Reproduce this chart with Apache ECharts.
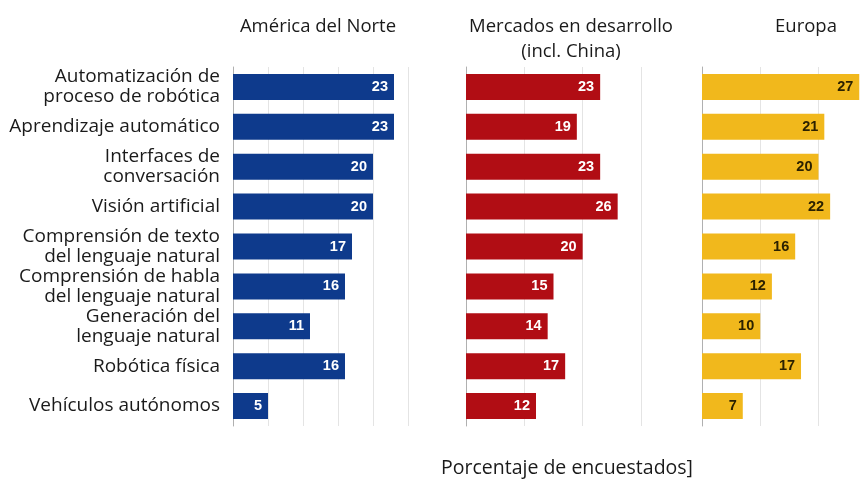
<!DOCTYPE html>
<html>
<head>
<meta charset="utf-8">
<script src="https://cdn.jsdelivr.net/npm/echarts@6/dist/echarts.min.js"></script>
<style>
  html, body { margin: 0; padding: 0; background: #fff; }
  #chart { width: 868px; height: 486px; }
</style>
</head>
<body>
<div id="chart"></div>
<script>
// Technologies surveyed (top to bottom)
const categories = [
  'Automatización de\nproceso de robótica',
  'Aprendizaje automático',
  'Interfaces de\nconversación',
  'Visión artificial',
  'Comprensión de texto\ndel lenguaje natural',
  'Comprensión de habla\ndel lenguaje natural',
  'Generación del\nlenguaje natural',
  'Robótica física',
  'Vehículos autónomos'
];

// Share of respondents (%) per region
const northAmerica = [23, 23, 20, 20, 17, 16, 11, 16, 5];
const emerging = [23, 19, 23, 26, 20, 15, 14, 17, 12];
const europe = [27, 21, 20, 22, 16, 12, 10, 17, 7];

const panelTitles = ['América del Norte', 'Mercados en desarrollo\n(incl. China)', 'Europa'];
const xLabel = 'Porcentaje de encuestados]';

const FONT = '"Open Sans", "Noto Sans", sans-serif';
const LABEL_FONT = '"Liberation Sans", Arial, sans-serif';

// The Europe panel runs off the right edge, so its axis stops at the canvas border
const panels = [
  { left: 233, right: 460, max: 25, step: 5, color: '#0e3a8c', text: '#ffffff', data: northAmerica, center: 313 },
  { left: 466, right: 227, max: 30, step: 10, color: '#b10d14', text: '#ffffff', data: emerging, center: 566 },
  { left: 702, right: 0, max: 28.5, step: 10, color: '#f1b81c', text: '#2b2100', data: europe, center: 801 }
];

const chart = echarts.init(document.getElementById('chart'), null, { renderer: 'canvas' });

const option = {
  backgroundColor: '#ffffff',
  animation: false,
  title: panels.map((p, i) => ({
    text: panelTitles[i],
    left: p.center,
    top: 9,
    textAlign: 'center',
    textStyle: { fontFamily: FONT, fontSize: 18.5, fontWeight: 'normal', color: '#1a1a1a', lineHeight: 25 }
  })).concat([{
    text: xLabel,
    left: 562,
    top: 453,
    textAlign: 'center',
    textStyle: { fontFamily: FONT, fontSize: 19.5, fontWeight: 'normal', color: '#1a1a1a' }
  }]),
  grid: panels.map(p => ({ left: p.left, right: p.right, top: 67, height: 359, containLabel: false })),
  xAxis: panels.map((p, i) => ({
    type: 'value',
    gridIndex: i,
    min: 0,
    max: p.max,
    interval: p.step,
    axisLine: { show: false },
    axisTick: { show: false },
    axisLabel: { show: false },
    splitLine: { show: true, lineStyle: { color: '#e4e4e4', width: 1 } }
  })),
  yAxis: panels.map((p, i) => ({
    type: 'category',
    gridIndex: i,
    data: categories,
    inverse: true,
    axisLine: { show: true, lineStyle: { color: '#b0b0b0', width: 1 } },
    axisTick: { show: false },
    axisLabel: {
      show: i === 0,
      margin: 13,
      align: 'right',
      fontFamily: FONT,
      fontSize: 19,
      lineHeight: 20,
      color: '#1a1a1a'
    }
  })),
  series: panels.map((p, i) => ({
    type: 'bar',
    xAxisIndex: i,
    yAxisIndex: i,
    data: p.data,
    barWidth: 26,
    itemStyle: { color: p.color },
    label: {
      show: true,
      position: 'insideRight',
      distance: 6,
      color: p.text,
      fontFamily: LABEL_FONT,
      fontSize: 14.5,
      fontWeight: 'bold'
    }
  }))
};

chart.setOption(option);
</script>
</body>
</html>
